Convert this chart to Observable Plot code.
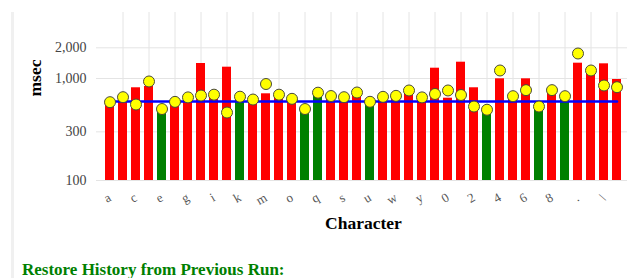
<!DOCTYPE html>
<html><head><meta charset="utf-8">
<script src="https://cdn.jsdelivr.net/npm/d3@7"></script>
<script src="https://cdn.jsdelivr.net/npm/@observablehq/plot@0.6"></script>
<style>
html,body{margin:0;padding:0;background:#fff;overflow:hidden;width:627px;height:278px;}
#wrap{position:relative;width:627px;height:278px;overflow:hidden;}
#border{position:absolute;left:11px;top:12px;width:3px;height:270px;background:#f0f0f0;}
#chart{position:absolute;left:0;top:0;width:650px;}
#chart svg{max-width:none !important;width:650px;height:245px;}
#title{position:absolute;left:22px;top:260px;font:bold 17px "Liberation Serif",serif;color:#008000;white-space:nowrap;}
</style></head><body>
<div id="wrap"><div id="border"></div><div id="chart"></div><div id="title">Restore History from Previous Run:</div></div>
<script>
const chars = ["a","b","c","d","e","f","g","h","i","j","k","l","m","n","o","p","q","r","s","t","u","v","w","x","y","z","0","1","2","3","4","5","6","7","8","9",".",",","\\","/"];
const barMs = [590,666,811,835,491,595,659,1403,697,1291,651,630,708,697,637,491,713,681,659,737,582,666,681,771,659,1262,641,1445,811,486,993,673,993,526,763,622,1413,1171,1393,978];
const prevMs = [586,656,556,935,502,590,653,681,694,464,663,622,883,694,632,502,726,673,656,729,591,661,676,763,653,705,763,689,531,494,1198,671,769,531,769,671,1758,1198,854,822];
const barStatus = ["r","r","r","r","g","r","r","r","r","r","g","r","r","r","r","g","g","r","r","r","g","r","r","r","r","r","r","r","r","g","r","r","r","g","r","g","r","r","r","r"];
const averageMs = 595;
const yTicks = [100, 300, 1000, 2000];
const yMax = 4437;

const data = chars.map((c, i) => ({char: c, ms: barMs[i], prev: prevMs[i], status: barStatus[i], avg: averageMs}));
const labelChars = chars.filter((c, i) => i % 2 === 0);
const gridChars = chars.filter((c, i) => i % 2 === 1);

const chart = Plot.plot({
  width: 650,
  height: 245,
  marginLeft: 96,
  marginRight: 20,
  marginTop: 12,
  marginBottom: 65,
  style: {fontFamily: "'Liberation Serif', serif", background: "transparent", overflow: "visible"},
  x: {type: "band", domain: chars, paddingInner: 0.34, paddingOuter: 0.17, label: null},
  y: {type: "log", domain: [100, yMax], label: null},
  color: {domain: ["r", "g"], range: ["#ff0000", "#008000"]},
  marks: [
    Plot.ruleX(gridChars, {stroke: "#e4e4e4", strokeWidth: 1}),
    Plot.gridY(yTicks, {stroke: "#e4e4e4", strokeOpacity: 1}),
    Plot.barY(data, {x: "char", y1: 100, y2: "ms", fill: "status"}),
    Plot.lineY(data, {x: "char", y: "avg", stroke: "#0000ff", strokeWidth: 2.5}),
    Plot.dot(data, {x: "char", y: "prev", r: 5.5, fill: "#ffff00", stroke: "#4a4a3a", strokeWidth: 1}),
    Plot.axisY({ticks: yTicks, tickFormat: d3.format(","), tickSize: 0, tickPadding: 10, fontSize: 14, color: "#444", label: null}),
    Plot.axisX({ticks: labelChars, tickSize: 0, tickPadding: 16, tickRotate: -30, fontSize: 13, color: "#555", label: null}),
    Plot.text(["msec"], {frameAnchor: "left", dx: -61, rotate: -90, fontSize: 17.5, fontWeight: "bold", fill: "#000", text: d => d}),
    Plot.text(["Character"], {frameAnchor: "bottom", dy: 48, fontSize: 17.5, fontWeight: "bold", fill: "#000", text: d => d})
  ]
});
document.getElementById("chart").appendChild(chart);
</script>
</body></html>
